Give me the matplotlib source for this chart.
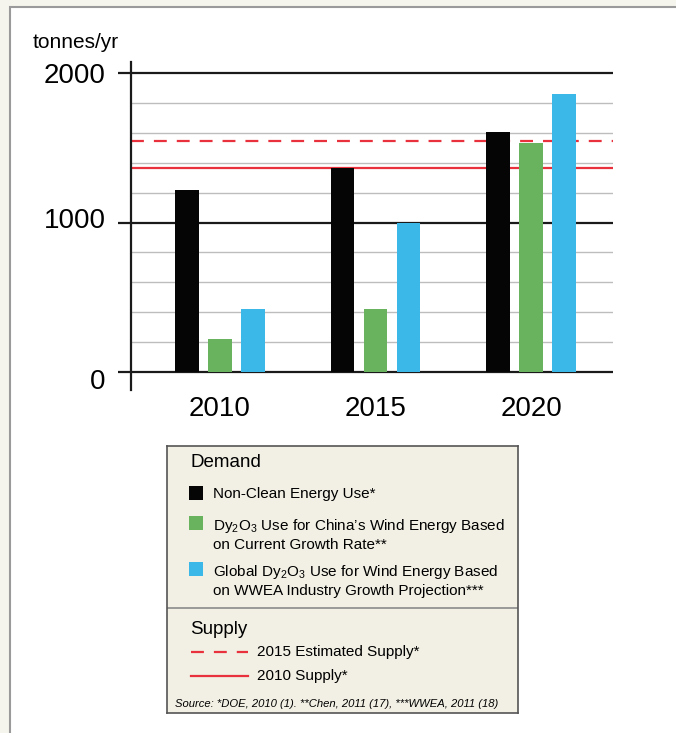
import matplotlib
matplotlib.use("Agg")
import matplotlib.pyplot as plt
from matplotlib.patches import Rectangle
from matplotlib.transforms import ScaledTranslation

plt.rcParams["font.family"] = ["Liberation Sans", "DejaVu Sans"]
plt.rcParams["mathtext.fontset"] = "custom"
plt.rcParams["mathtext.rm"] = "Liberation Sans"
plt.rcParams["mathtext.it"] = "Liberation Sans:italic"

# data (tonnes/yr)
years = ["2010", "2015", "2020"]
non_clean = [1220, 1365, 1605]
china_wind = [220, 420, 1530]
global_wind = [420, 1000, 1860]
supply_2015_est = 1545
supply_2010 = 1365

C_BLACK = "#050505"
C_GREEN = "#69b35f"
C_BLUE = "#3cb8e8"
C_RED = "#e8313c"
DASH = (0, (5.8, 4.5))
W, H = 676, 733

fig = plt.figure(figsize=(W / 100, H / 100), dpi=100)
fig.patch.set_facecolor("#f5f5ee")
# white panel
fig.patches.append(Rectangle((10 / W, -0.01), 1, 1.01 - 7 / H, transform=fig.transFigure,
                             facecolor="white", edgecolor="#9a9a9a", lw=1.5, zorder=-10))


def fx(px):
    return px / W


def fy(py):
    return 1 - py / H


# ---- main chart
ax = fig.add_axes([fx(131), fy(390), fx(613) - fx(131), fy(62) - fy(390)])
ax.set_facecolor("none")
ax.set_ylim(-120, 2074)
ax.set_xlim(-0.572, 2.527)

x0, x1 = ax.get_xlim()
for v in range(200, 2000, 200):
    if v != 1000:
        ax.hlines(v, x0, x1, color="#bdbdbd", lw=1, zorder=1)
for v in (0, 1000, 2000):
    ax.hlines(v, x0, x1, color="#1a1a1a", lw=1.6, zorder=1)

ax.axhline(supply_2015_est, color=C_RED, lw=1.6, ls=DASH, zorder=2)
ax.axhline(supply_2010, color=C_RED, lw=1.6, zorder=2)

off, bw = 0.213, 0.152
xs = range(len(years))
ax.bar([x - off for x in xs], non_clean, bw, color=C_BLACK, zorder=3)
ax.bar(list(xs), china_wind, bw, color=C_GREEN, zorder=3)
ax.bar([x + off for x in xs], global_wind, bw, color=C_BLUE, zorder=3)

for s in ("top", "right", "bottom"):
    ax.spines[s].set_visible(False)
ax.spines["left"].set_linewidth(1.6)
ax.spines["left"].set_color("#1a1a1a")

ax.set_yticks([0, 1000, 2000])
ax.set_yticklabels(["0", "1000", "2000"])
ax.tick_params(axis="y", length=9.4, width=1.6, color="#1a1a1a", labelsize=20, pad=9)
# the original labels sit a little off their lines
for lab, dy in zip(ax.get_yticklabels(), (-0.07, 0.05, 0.0)):
    lab.set_transform(lab.get_transform() + ScaledTranslation(0, dy, fig.dpi_scale_trans))
ax.set_xticks(list(xs))
ax.set_xticklabels(years)
ax.tick_params(axis="x", length=0, labelsize=20, pad=4)

fig.text(fx(33), fy(42), "tonnes/yr", fontsize=15, va="center", ha="left")

# ---- legend box (pixel units inside)
lg = fig.add_axes([fx(167), fy(713), fx(518) - fx(167), fy(446) - fy(713)])
lg.set_xlim(167, 518)
lg.set_ylim(713, 446)
lg.set_facecolor("#f2f0e4")
for s in lg.spines.values():
    s.set_color("#555555")
    s.set_linewidth(1.2)
lg.set_xticks([])
lg.set_yticks([])

lg.text(190, 463, "Demand", fontsize=13.5, va="center")
items = [
    (C_BLACK, 493, "Non-Clean Energy Use*"),
    (C_GREEN, 523, "Dy$_{\\mathregular{2}}$O$_{\\mathregular{3}}$ Use for China\u2019s Wind Energy Based\non Current Growth Rate**"),
    (C_BLUE, 569, "Global Dy$_{\\mathregular{2}}$O$_{\\mathregular{3}}$ Use for Wind Energy Based\non WWEA Industry Growth Projection***"),
]
for col, y, label in items:
    lg.add_patch(Rectangle((189, y - 7), 14, 14, facecolor=col, edgecolor="none"))
    lg.text(213, y - 6, label, fontsize=11, va="top", linespacing=1.25)

lg.axhline(608, color="#8a8a8a", lw=1.2)
lg.text(190, 630, "Supply", fontsize=13.5, va="center")
lg.plot([191, 248], [652, 652], color=C_RED, lw=1.6, ls=DASH)
lg.text(257, 652, "2015 Estimated Supply*", fontsize=11, va="center")
lg.plot([191, 248], [676, 676], color=C_RED, lw=1.6)
lg.text(257, 676, "2010 Supply*", fontsize=11, va="center")
lg.text(175, 704, "Source: *DOE, 2010 (1). **Chen, 2011 (17), ***WWEA, 2011 (18)",
        fontsize=8.1, style="italic", va="center")

fig.savefig("out.png", dpi=100, facecolor=fig.get_facecolor())
